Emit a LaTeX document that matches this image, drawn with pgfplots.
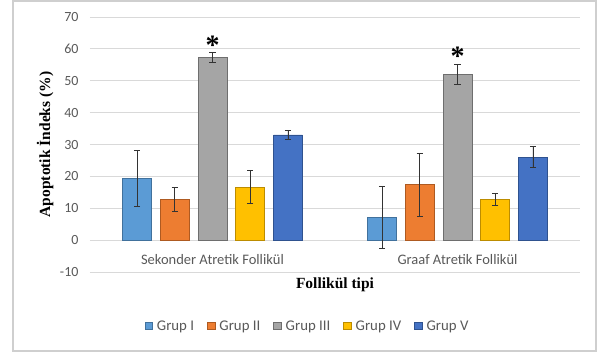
\documentclass[border=0pt]{standalone}
\usepackage{pgfplots}
\usepackage{pgfplotstable}
\pgfplotsset{compat=1.18}
\usepackage{fontspec}
\setmainfont{Carlito}
\newfontfamily\serifb{Liberation Serif}

\definecolor{cI}{HTML}{5B9BD5}
\definecolor{cIb}{HTML}{41719C}
\definecolor{cII}{HTML}{ED7D31}
\definecolor{cIIb}{HTML}{AE5A21}
\definecolor{cIII}{HTML}{A5A5A5}
\definecolor{cIIIb}{HTML}{6E6E6E}
\definecolor{cIV}{HTML}{FFC000}
\definecolor{cIVb}{HTML}{BC8C00}
\definecolor{cV}{HTML}{4472C4}
\definecolor{cVb}{HTML}{2F528F}
\definecolor{gridc}{HTML}{D9D9D9}
\definecolor{txt}{HTML}{595959}
\definecolor{frame}{HTML}{CFCFCF}

% mean and standard error per follicle type (0 = Sekonder, 1 = Graaf)
\pgfplotstableread{
x y e
0 19.4 8.7
1 7.2 9.8
}\grupI
\pgfplotstableread{
x y e
0 12.7 3.8
1 17.4 9.8
}\grupII
\pgfplotstableread{
x y e
0 57.3 1.5
1 52.0 3.0
}\grupIII
\pgfplotstableread{
x y e
0 16.6 5.2
1 12.8 1.8
}\grupIV
\pgfplotstableread{
x y e
0 33.0 1.5
1 26.0 3.3
}\grupV

\begin{document}
\begin{tikzpicture}
\begin{axis}[
  at={(0pt,0pt)}, anchor=south west,
  scale only axis, width=490pt, height=255pt,
  xmin=-0.5, xmax=1.5,
  ymin=-10, ymax=70, ytick={-10,0,...,70},
  xtick={0,1},
  xticklabels={Sekonder Atretik Follikül, Graaf Atretik Follikül},
  axis line style={draw=none},
  major tick length=0pt,
  ymajorgrids, grid style={color=gridc, line width=0.9pt},
  /pgf/number format/assume math mode=true,
  yticklabel style={font=\fontsize{14}{14}\selectfont, text=txt, anchor=east, xshift=-8pt},
  xticklabel style={font=\fontsize{14.5}{14.5}\selectfont, text=txt, anchor=center, yshift=12pt},
  every axis x label/.style={at={(axis description cs:0.5,-0.051)}, anchor=center,
    font=\serifb\bfseries\fontsize{15.5}{15.5}\selectfont},
  every axis y label/.style={at={(axis description cs:-0.0918,0.5)}, anchor=center, rotate=90,
    font=\serifb\bfseries\fontsize{15.5}{15.5}\selectfont},
  xlabel={Follikül tipi},
  ylabel={Apoptotik İndeks (\%)},
  ybar, bar width=0.118,
  legend columns=5,
  legend style={at={(axis description cs:0.4439,-0.212)}, anchor=center, draw=none,
    font=\fontsize{14.8}{14.8}\selectfont, text=txt,
    /tikz/every odd column/.append style={column sep=2pt},
    /tikz/every even column/.append style={column sep=11pt}},
  legend image code/.code={\draw[#1, line width=0.8pt] (0pt,-3.8pt) rectangle (7.6pt,3.8pt);},
  error bars/y dir=both, error bars/y explicit,
  error bars/error bar style={line width=0.7pt, color=black!80},
  error bars/error mark options={rotate=90, mark size=3.2pt, line width=0.7pt, color=black!80},
]
\addplot[bar shift=-0.308, fill=cI, draw=cIb, line width=0.8pt]
  table[x=x, y=y, y error=e] {\grupI};
\addplot[bar shift=-0.154, fill=cII, draw=cIIb, line width=0.8pt]
  table[x=x, y=y, y error=e] {\grupII};
\addplot[bar shift=0, fill=cIII, draw=cIIIb, line width=0.8pt]
  table[x=x, y=y, y error=e] {\grupIII};
\addplot[bar shift=0.154, fill=cIV, draw=cIVb, line width=0.8pt]
  table[x=x, y=y, y error=e] {\grupIV};
\addplot[bar shift=0.308, fill=cV, draw=cVb, line width=0.8pt]
  table[x=x, y=y, y error=e] {\grupV};
\legend{Grup I, Grup II, Grup III, Grup IV, Grup V}
% significance markers above Grup III
\node[font=\serifb\bfseries\fontsize{28}{28}\selectfont, anchor=base] at (axis cs:0,58.2) {*};
\node[font=\serifb\bfseries\fontsize{28}{28}\selectfont, anchor=base] at (axis cs:1,54.8) {*};
\end{axis}
% chart frame
\draw[frame, line width=1.2pt] (-77pt,-79pt) rectangle (506pt,271pt);
\pgfresetboundingbox
\path (-90pt,-82pt) rectangle (507pt,272pt);
\end{tikzpicture}
\end{document}
